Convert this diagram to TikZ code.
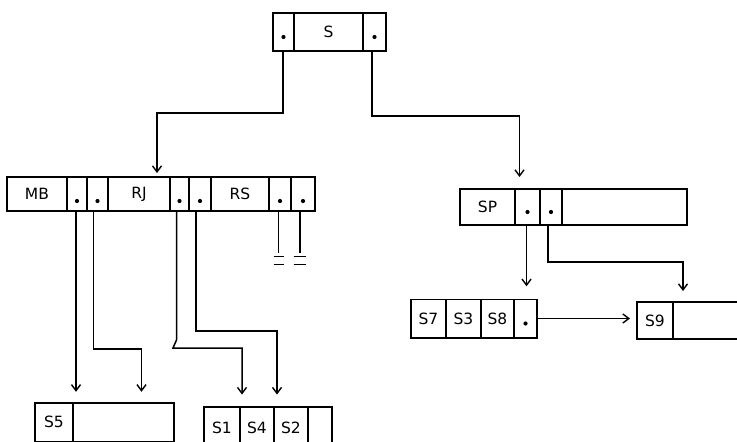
\documentclass[tikz,border=0pt]{standalone}
\usepackage{fontspec}
\setmainfont{DejaVu Sans}
\usetikzlibrary{arrows.meta}
\begin{document}
\begin{tikzpicture}[x=1pt,y=1pt,
  cell/.style={draw, line width=1.5pt, inner sep=0pt, outer sep=0pt,
    font=\fontsize{15.5}{16}\selectfont},
  ptr/.style={line width=1.5pt, line join=miter,
    -{Straight Barb[length=6pt,width=9pt,line width=1.4pt]}},
  nullp/.style={line width=1.5pt},
  dotmark/.style={fill=black}
  ]
\useasboundingbox (0,0) rectangle (737,-442);
\clip (0,0) rectangle (737,-442);
\fill[white] (0,0) rectangle (737,-442);

% ---------- S record ----------
\begin{scope}[every node/.style={cell, minimum height=38pt}]
\node[minimum width=21pt] (sL) at (283.5,-32) {};
\node[minimum width=69pt] (sS) at (328.5,-32) {S};
\node[minimum width=23pt] (sR) at (374.5,-32) {};
\end{scope}

% ---------- MB row ----------
\begin{scope}[every node/.style={cell, minimum height=34pt}]
\node[minimum width=60pt] (m1) at (37,-194) {MB};
\node[minimum width=20pt] (m2) at (77,-194) {};
\node[minimum width=21pt] (m3) at (97.5,-194) {};
\node[minimum width=62pt] (m4) at (139,-194) {RJ};
\node[minimum width=19pt] (m5) at (179.5,-194) {};
\node[minimum width=22pt] (m6) at (200,-194) {};
\node[minimum width=58pt] (m7) at (240,-194) {RS};
\node[minimum width=22pt] (m8) at (280,-194) {};
\node[minimum width=24pt] (m9) at (303,-194) {};
\end{scope}

% ---------- SP row ----------
\begin{scope}[every node/.style={cell, minimum height=36pt}]
\node[minimum width=55pt] (p1) at (487.5,-207) {SP};
\node[minimum width=25pt] (p2) at (527.5,-207) {};
\node[minimum width=22pt] (p3) at (551,-207) {};
\node[minimum width=125pt] (p4) at (624.5,-207) {};
\end{scope}

% ---------- S7 row ----------
\begin{scope}[every node/.style={cell, minimum height=38.5pt}]
\node[minimum width=35pt] (q1) at (428.5,-318.5) {S7};
\node[minimum width=35pt] (q2) at (463.5,-318.5) {S3};
\node[minimum width=33pt] (q3) at (497.5,-318.5) {S8};
\node[minimum width=23pt] (q4) at (525.5,-318.5) {};
\end{scope}

% ---------- S9 row ----------
\begin{scope}[every node/.style={cell, minimum height=37pt}]
\node[minimum width=36pt] (r1) at (655,-320.5) {S9};
\node[minimum width=87pt] (r2) at (716.5,-320.5) {};
\end{scope}

% ---------- S5 row ----------
\begin{scope}[every node/.style={cell, minimum height=38.5pt}]
\node[minimum width=38pt] (t1) at (54,-422) {S5};
\node[minimum width=101pt] (t2) at (123.5,-422) {};
\end{scope}

% ---------- S1 row ----------
\begin{scope}[every node/.style={cell, minimum height=42pt}]
\node[minimum width=36pt] (u1) at (222,-428) {S1};
\node[minimum width=34pt] (u2) at (257,-428) {S4};
\node[minimum width=34pt] (u3) at (291,-428) {S2};
\node[minimum width=24pt] (u4) at (320,-428) {};
\end{scope}

% ---------- pointer dots ----------
\foreach \n in {sL,sR,p2,p3,q4}
  \fill[dotmark] ([yshift=-5pt]\n.center) circle (2.1);
\foreach \n in {m2,m3,m5,m6,m8,m9}
  \fill[dotmark] ([yshift=-7pt]\n.center) circle (2.1);

% ---------- connectors ----------
\draw[ptr] ([xshift=-0.5pt]sL.south) -- ++(0,-62) -| ([xshift=18pt,yshift=4pt]m4.north);
\draw[ptr] ([xshift=-2.5pt]sR.south) -- ++(0,-65) -| ([xshift=-8pt,yshift=12pt]p2.north);

\draw[ptr, shorten >=11pt] ([xshift=-1pt]m2.south) -- ([xshift=-1pt]m2.south |- t1.north);
\draw[ptr, shorten >=11pt] ([xshift=-4pt]m3.south) -- ++(0,-138) -| ([xshift=18pt]t2.north);
\draw[ptr, shorten >=12.5pt] ([xshift=-3pt]m5.south) -- ++(0,-129) -- ++(-3.5,-8)
  -| ([xshift=20pt]u1.north);
\draw[ptr, shorten >=12.5pt] ([xshift=-4pt]m6.south) -- ++(0,-120) -| ([xshift=20pt]u2.north);

\draw[nullp] ([xshift=-1.5pt]m8.south) -- ++(0,-42)
  ++(-5,-3.5) -- ++(10,0) ++(-10,-8) -- ++(10,0);
\draw[nullp] ([xshift=-3pt]m9.south) -- ++(0,-42)
  ++(-6.5,-3.5) -- ++(12.5,0) ++(-12.5,-8) -- ++(12.5,0);

\draw[ptr, shorten >=13pt] ([xshift=-1pt]p2.south) -- ([xshift=-1pt]p2.south |- q4.north);
\draw[ptr, shorten >=11pt] ([xshift=-3pt]p3.south) -- ++(0,-37) -| ([xshift=-33.5pt]r2.north);
\draw[ptr, shorten >=7pt] (q4.east) -- (q4.east -| r1.west);
\end{tikzpicture}
\end{document}
